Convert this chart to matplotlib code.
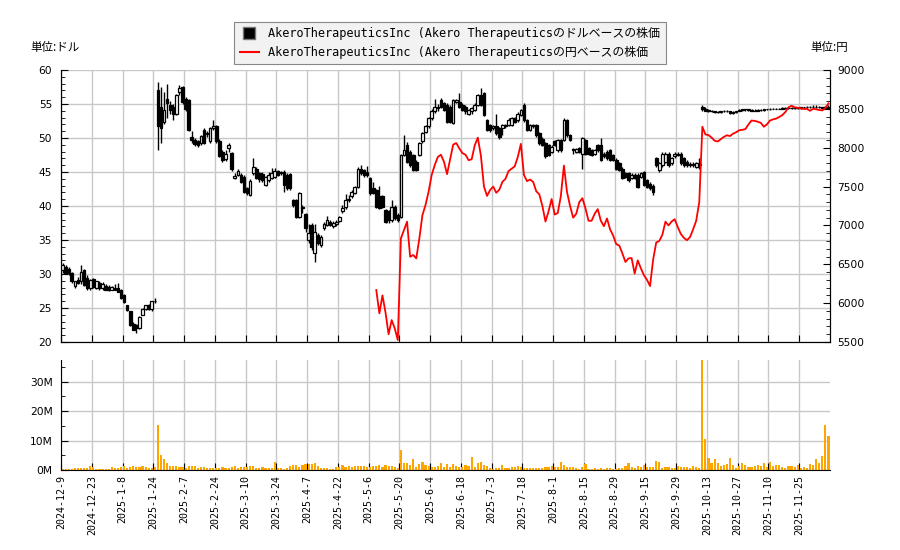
import numpy as np
import matplotlib
matplotlib.use("Agg")
import matplotlib.pyplot as plt
from matplotlib.ticker import MultipleLocator, FuncFormatter, FixedLocator
from matplotlib.lines import Line2D
from matplotlib.font_manager import FontProperties

# ---------------- data ----------------
date_labels = ["2024-12-9", "2024-12-23", "2025-1-8", "2025-1-24", "2025-2-7", "2025-2-24",
               "2025-3-10", "2025-3-24", "2025-4-7", "2025-4-22", "2025-5-6", "2025-5-20",
               "2025-6-4", "2025-6-18", "2025-7-3", "2025-7-18", "2025-8-1", "2025-8-15",
               "2025-8-29", "2025-9-15", "2025-9-29", "2025-10-13", "2025-10-27",
               "2025-11-10", "2025-11-25"]
label_every = 10  # trading days between labelled ticks

opens = [
    30.6, 31.1, 30.8, 30.1, 28.3, 29.1, 28.9, 30.6, 29.4, 27.9,
    29.2, 28.0, 28.7, 27.9, 28.2, 28.1, 27.7, 28.0, 27.9, 27.6,
    26.9, 25.4, 24.5, 22.7, 22.5, 22.0, 24.0, 24.8, 25.4, 24.8,
    26.0, 57.1, 54.5, 52.4, 55.7, 54.9, 54.6, 53.6, 56.8, 57.5,
    55.7, 55.6, 50.2, 49.7, 49.5, 49.2, 51.2, 50.8, 49.5, 51.4,
    51.7, 49.5, 48.0, 46.9, 48.5, 47.8, 44.1, 44.6, 44.6, 44.3,
    42.6, 41.6, 44.8, 45.5, 44.8, 44.7, 43.1, 43.8, 44.1, 44.3,
    45.1, 45.0, 45.0, 44.6, 44.7, 40.9, 40.9, 38.4, 39.9, 38.8,
    35.0, 37.2, 33.1, 35.7, 34.3, 36.7, 37.2, 37.7, 37.0, 37.3,
    37.8, 39.2, 39.9, 40.9, 41.4, 41.9, 42.8, 45.5, 45.3, 45.0,
    44.1, 42.6, 42.3, 41.4, 41.4, 39.4, 39.2, 37.9, 39.9, 38.7,
    38.4, 47.5, 49.0, 48.0, 47.5, 46.5, 47.5, 49.5, 50.9, 51.7,
    52.9, 53.9, 54.6, 55.6, 55.1, 54.9, 54.6, 52.2, 55.3, 55.3,
    54.9, 54.6, 53.6, 53.9, 54.1, 54.9, 56.3, 56.6, 52.6, 51.9,
    51.4, 51.7, 51.4, 51.4, 51.9, 51.9, 51.9, 52.9, 52.6, 53.4,
    54.9, 52.6, 51.2, 51.9, 51.9, 50.7, 49.9, 49.2, 48.9, 48.0,
    49.5, 48.2, 49.7, 49.7, 52.6, 50.4, 48.4, 48.0, 48.5, 47.7,
    49.7, 48.5, 48.2, 47.7, 48.9, 48.9, 47.7, 48.0, 48.2, 47.5,
    46.8, 46.3, 45.5, 44.8, 44.8, 44.1, 44.6, 44.6, 44.3, 45.0,
    43.8, 43.3, 42.9, 47.0, 45.3, 46.0, 46.5, 47.7, 46.3, 47.3,
    47.7, 47.7, 47.0, 46.5, 46.2, 46.2, 45.8, 46.1, 54.6, 54.3,
    54.1, 54.0, 53.9, 53.8, 53.8, 53.9, 54.0, 53.9, 53.7, 53.8,
    54.0, 54.1, 54.2, 54.2, 54.1, 54.0, 54.0, 54.1, 54.1, 54.2,
    54.2, 54.3, 54.3, 54.3, 54.3, 54.4, 54.4, 54.4, 54.4, 54.4,
    54.4, 54.5, 54.5, 54.6, 54.6, 54.6, 54.5, 54.5, 54.4, 54.5,
]
highs = [
    31.6, 31.3, 31.0, 30.3, 29.0, 29.5, 31.3, 30.7, 29.8, 29.2,
    29.4, 29.0, 28.9, 28.8, 28.6, 28.4, 28.3, 28.6, 28.7, 27.8,
    27.0, 25.5, 24.6, 23.0, 22.6, 23.8, 25.0, 25.5, 25.6, 26.1,
    26.4, 58.3, 57.5, 56.8, 57.9, 55.4, 55.0, 56.5, 57.8, 57.7,
    56.0, 55.8, 51.0, 50.0, 49.7, 50.5, 51.4, 51.0, 51.6, 52.7,
    51.9, 49.8, 48.3, 48.2, 49.3, 48.0, 44.9, 45.5, 44.9, 44.5,
    42.8, 43.9, 47.0, 45.7, 45.0, 45.0, 44.4, 45.0, 45.6, 45.6,
    45.3, 45.2, 45.3, 44.8, 44.9, 41.1, 41.1, 42.1, 40.1, 39.0,
    37.4, 37.5, 37.3, 36.0, 35.8, 37.7, 38.6, 37.9, 37.8, 37.9,
    38.6, 40.1, 41.7, 41.6, 42.3, 43.0, 45.7, 46.1, 45.5, 45.9,
    44.3, 43.5, 42.5, 42.9, 41.6, 39.6, 39.4, 40.9, 40.1, 38.9,
    47.7, 50.4, 49.4, 48.2, 47.7, 46.7, 49.4, 50.9, 51.9, 53.1,
    54.2, 55.8, 55.0, 55.9, 55.3, 55.1, 54.8, 55.8, 55.8, 56.6,
    55.1, 54.8, 54.3, 54.6, 55.1, 56.5, 57.3, 56.8, 52.8, 52.1,
    51.9, 53.5, 51.6, 52.1, 52.1, 52.9, 53.1, 53.1, 53.8, 54.3,
    55.1, 52.8, 52.1, 52.1, 52.1, 50.9, 50.1, 49.4, 49.1, 48.9,
    49.7, 49.9, 49.9, 52.9, 52.8, 50.6, 48.6, 48.6, 48.7, 50.2,
    49.9, 48.7, 48.4, 48.4, 49.1, 50.0, 47.9, 48.2, 48.4, 47.7,
    47.0, 46.5, 45.7, 45.0, 45.0, 44.8, 44.8, 44.8, 45.0, 45.2,
    44.0, 43.5, 43.3, 47.2, 46.5, 47.9, 48.0, 47.9, 47.2, 48.0,
    48.0, 48.0, 47.2, 46.7, 46.4, 46.4, 46.5, 47.0, 54.9, 54.5,
    54.3, 54.1, 54.0, 54.0, 54.0, 54.1, 54.1, 54.0, 53.9, 54.0,
    54.2, 54.3, 54.3, 54.3, 54.2, 54.2, 54.2, 54.2, 54.3, 54.3,
    54.4, 54.4, 54.4, 54.4, 54.5, 54.5, 54.5, 54.5, 54.5, 54.5,
    54.6, 54.6, 54.7, 54.7, 54.8, 54.8, 54.7, 54.6, 54.7, 54.9,
]
lows = [
    30.2, 30.0, 29.9, 28.7, 28.0, 28.6, 28.6, 28.2, 27.6, 27.7,
    28.0, 27.8, 27.7, 27.7, 27.6, 27.5, 27.6, 27.6, 27.3, 26.3,
    25.8, 24.6, 22.4, 21.7, 21.3, 21.9, 23.9, 24.7, 24.7, 24.6,
    25.7, 48.3, 49.3, 52.0, 53.0, 53.6, 52.6, 53.4, 56.3, 55.0,
    53.9, 51.0, 49.3, 48.8, 48.7, 48.9, 49.1, 50.2, 49.2, 51.2,
    49.3, 47.2, 46.5, 46.6, 48.0, 45.2, 43.9, 44.4, 43.4, 41.9,
    41.6, 41.5, 44.5, 43.9, 43.6, 43.6, 42.9, 43.6, 44.0, 44.1,
    44.4, 44.5, 42.0, 42.4, 42.4, 39.9, 38.2, 38.2, 39.0, 36.2,
    34.5, 33.5, 31.7, 34.2, 34.0, 36.5, 37.0, 37.0, 36.8, 37.1,
    37.6, 38.9, 39.6, 40.6, 41.2, 41.7, 42.6, 44.6, 44.3, 44.2,
    41.6, 41.7, 39.7, 39.5, 39.7, 37.5, 37.5, 37.6, 38.0, 37.7,
    38.2, 47.3, 46.3, 45.8, 45.1, 45.1, 47.3, 49.3, 50.7, 51.5,
    52.7, 53.7, 54.0, 54.4, 53.9, 52.2, 52.2, 52.0, 55.1, 54.4,
    53.9, 53.5, 53.4, 53.6, 53.9, 54.7, 54.7, 53.2, 51.0, 50.9,
    51.2, 50.5, 49.9, 50.4, 51.4, 51.7, 51.7, 52.2, 52.4, 53.2,
    52.4, 51.0, 51.0, 51.5, 50.2, 49.0, 48.8, 47.1, 47.3, 47.8,
    48.8, 48.0, 48.0, 49.5, 50.2, 49.5, 47.6, 47.8, 47.8, 45.5,
    47.5, 47.5, 47.3, 47.5, 48.0, 46.6, 47.1, 46.8, 46.6, 46.6,
    45.3, 45.1, 43.9, 44.1, 43.6, 43.9, 43.9, 42.6, 44.1, 42.9,
    42.6, 42.4, 41.6, 45.8, 45.0, 45.8, 46.3, 45.8, 46.1, 47.1,
    47.3, 46.1, 45.8, 45.8, 45.8, 45.8, 45.6, 45.5, 54.0, 53.9,
    53.8, 53.8, 53.7, 53.7, 53.7, 53.8, 53.8, 53.6, 53.6, 53.7,
    53.9, 54.0, 54.0, 54.0, 53.9, 53.9, 53.9, 54.0, 54.0, 54.1,
    54.1, 54.2, 54.2, 54.2, 54.2, 54.3, 54.3, 54.3, 54.3, 54.3,
    54.3, 54.4, 54.4, 54.4, 54.5, 54.4, 54.4, 54.3, 54.3, 54.3,
]
closes = [
    31.3, 30.1, 30.1, 28.9, 28.9, 28.7, 30.3, 28.4, 27.9, 29.1,
    28.1, 28.9, 27.9, 28.6, 27.7, 27.7, 28.1, 27.7, 27.4, 26.4,
    25.9, 24.7, 22.5, 21.8, 22.0, 23.7, 24.9, 25.4, 24.8, 26.0,
    26.1, 51.7, 51.5, 54.1, 55.2, 54.1, 53.6, 56.3, 57.4, 55.3,
    54.2, 51.2, 49.7, 49.1, 49.0, 50.3, 49.3, 50.6, 51.4, 51.8,
    49.5, 47.4, 46.8, 47.6, 49.0, 45.4, 44.4, 45.1, 43.6, 42.1,
    41.9, 43.7, 45.7, 44.1, 43.9, 43.8, 44.2, 44.6, 44.8, 45.1,
    44.6, 44.8, 43.1, 42.6, 42.6, 40.1, 38.4, 41.9, 39.7, 36.7,
    36.0, 34.0, 36.2, 34.5, 35.5, 37.4, 37.9, 37.2, 37.5, 37.7,
    38.4, 39.7, 40.9, 41.1, 42.1, 42.8, 45.5, 44.8, 44.6, 44.6,
    41.9, 41.9, 39.9, 39.7, 39.9, 37.7, 37.9, 39.9, 38.2, 37.9,
    47.5, 48.2, 46.5, 46.0, 45.3, 45.3, 49.2, 50.7, 51.7, 52.9,
    53.9, 54.6, 54.4, 54.6, 54.1, 52.4, 52.4, 55.6, 55.6, 54.6,
    54.1, 53.9, 54.1, 54.4, 54.9, 56.3, 54.9, 53.4, 51.2, 51.2,
    51.7, 50.7, 50.2, 51.9, 51.7, 52.6, 52.9, 52.4, 53.6, 54.1,
    52.6, 51.2, 51.9, 51.7, 50.4, 49.2, 49.0, 47.3, 47.5, 48.7,
    49.0, 49.7, 48.2, 52.6, 50.4, 49.7, 48.2, 48.4, 48.0, 50.0,
    47.7, 47.7, 47.5, 48.2, 48.2, 46.8, 47.3, 47.0, 46.8, 46.8,
    45.5, 45.3, 44.1, 44.3, 43.8, 44.6, 44.1, 42.8, 44.8, 43.1,
    42.8, 42.6, 42.1, 46.0, 46.3, 47.7, 47.7, 46.0, 47.0, 47.7,
    47.5, 46.3, 46.0, 46.0, 46.0, 46.0, 46.3, 46.2, 54.2, 54.0,
    53.9, 53.9, 53.8, 53.8, 53.9, 54.0, 54.0, 53.7, 53.8, 54.0,
    54.1, 54.2, 54.2, 54.1, 54.0, 54.0, 54.1, 54.1, 54.2, 54.2,
    54.3, 54.3, 54.3, 54.3, 54.4, 54.4, 54.4, 54.4, 54.4, 54.4,
    54.5, 54.5, 54.6, 54.6, 54.6, 54.5, 54.5, 54.4, 54.5, 54.4,
]
# yen-based price, not available for the first 102 trading days
jpy_close = [np.nan] * 102 + [
    6168, 5868, 6100, 5880, 5600, 5782, 5675, 5525, 6833, 6940,
    7048, 6597, 6619, 6576, 6833, 7133, 7262, 7434, 7648, 7777,
    7880, 7910, 7820, 7660, 7850, 8040, 8060, 7990, 7930, 7910,
    7840, 7850, 8030, 8130, 7900, 7500, 7380, 7455, 7500, 7420,
    7460, 7560, 7600, 7700, 7730, 7760, 7880, 8050, 7650, 7570,
    7590, 7560, 7440, 7400, 7250, 7050, 7180, 7340, 7140, 7160,
    7380, 7770, 7430, 7250, 7100, 7150, 7300, 7350, 7220, 7060,
    7060, 7150, 7210, 7060, 6990, 7090, 6950, 6870, 6760, 6740,
    6640, 6530, 6576, 6580, 6380, 6550, 6450, 6360, 6300, 6220,
    6560, 6780, 6800, 6880, 7048, 7000, 7050, 7080, 6980, 6890,
    6840, 6810, 6850, 6950, 7060, 7300, 8270, 8170, 8163, 8130,
    8090, 8080, 8110, 8140, 8160, 8150, 8180, 8200, 8225, 8230,
    8240, 8300, 8350, 8345, 8335, 8320, 8270, 8300, 8350, 8365,
    8375, 8395, 8420, 8460, 8520, 8540, 8520, 8515, 8506, 8498,
    8500, 8475, 8500, 8495, 8485, 8480, 8510, 8570,
]
volume_m = [
    0.3, 0.3, 0.3, 0.3, 0.8, 0.8, 0.8, 0.8, 0.8, 1.5,
    1.1, 0.3, 0.3, 0.3, 0.3, 0.3, 1.0, 0.8, 0.8, 1.1,
    1.3, 0.8, 1.1, 1.5, 0.9, 1.1, 1.5, 1.1, 0.8, 0.8,
    1.0, 15.2, 5.1, 3.7, 2.4, 1.5, 1.5, 1.5, 0.9, 1.1,
    0.8, 1.5, 1.5, 1.5, 0.8, 1.0, 1.0, 0.8, 0.8, 0.8,
    0.8, 0.8, 1.0, 0.8, 0.8, 1.0, 1.3, 0.8, 1.0, 1.0,
    1.1, 1.5, 1.5, 0.8, 0.8, 1.0, 0.8, 0.8, 0.8, 2.8,
    0.8, 0.8, 0.3, 0.8, 1.3, 1.7, 1.7, 1.0, 1.7, 2.2,
    2.0, 2.2, 2.5, 1.5, 0.8, 0.8, 0.8, 0.3, 0.4, 1.1,
    1.1, 1.7, 1.0, 1.3, 1.0, 1.5, 1.5, 1.5, 1.5, 1.0,
    1.0, 1.5, 1.5, 1.7, 1.0, 1.7, 1.5, 1.5, 0.9, 0.8,
    6.7, 2.4, 2.4, 1.7, 3.7, 1.1, 2.0, 2.7, 1.7, 1.3,
    1.1, 1.0, 1.5, 2.4, 1.0, 2.0, 1.1, 2.0, 1.3, 0.9,
    1.1, 1.7, 1.3, 4.4, 1.0, 2.4, 2.7, 1.7, 1.3, 0.7,
    0.3, 0.7, 0.7, 1.7, 0.7, 0.7, 1.0, 1.0, 1.3, 1.0,
    0.7, 0.7, 0.7, 0.7, 0.7, 0.7, 0.7, 1.0, 1.0, 1.3,
    1.0, 1.0, 2.7, 1.7, 1.0, 1.0, 1.0, 0.7, 0.3, 1.0,
    2.0, 0.3, 0.3, 0.7, 0.3, 0.7, 0.3, 0.7, 0.7, 0.3,
    0.3, 0.7, 0.7, 1.3, 2.4, 1.0, 0.7, 1.3, 1.0, 1.7,
    1.0, 1.0, 1.0, 3.0, 2.7, 0.7, 1.0, 1.0, 0.7, 0.7,
    1.3, 1.0, 1.0, 1.0, 0.7, 1.3, 1.0, 0.7, 37.3, 10.4,
    4.0, 2.4, 3.7, 2.4, 1.3, 1.7, 2.0, 4.0, 1.7, 0.7,
    1.3, 2.4, 1.7, 1.0, 1.0, 1.3, 1.7, 1.3, 2.4, 1.0,
    2.7, 1.3, 1.7, 1.7, 1.0, 0.7, 1.3, 1.3, 1.0, 1.7,
    0.7, 1.0, 0.7, 2.0, 1.7, 3.7, 2.4, 4.7, 15.2, 11.5,
]

legend_usd = "AkeroTherapeuticsInc (Akero Therapeuticsのドルベースの株価"
legend_jpy = "AkeroTherapeuticsInc (Akero Therapeuticsの円ベースの株価"
unit_left = "単位:ドル"
unit_right = "単位:円"

# ---------------- figure ----------------
o = np.array(opens); h = np.array(highs); l = np.array(lows); c = np.array(closes)
jpy = np.array(jpy_close, dtype=float)
vol = np.array(volume_m)
n = len(c)
x = np.arange(n) + 0.5

W, H = 900, 550
fig = plt.figure(figsize=(W / 100, H / 100), dpi=100)
ax = fig.add_axes([61 / W, 1 - 342 / H, 769 / W, 272 / H])
axv = fig.add_axes([61 / W, 1 - 470 / H, 769 / W, 110 / H])

grid_col = "#c8c8c8"
mono = ["DejaVu Sans Mono", "Noto Sans CJK JP"]
cjk = ["Noto Sans CJK JP", "DejaVu Sans"]

tick_pos = np.arange(len(date_labels)) * label_every

# candles
up = c >= o
ax.vlines(x, l, h, color="black", lw=1.0, zorder=2)
ax.bar(x, np.abs(c - o), bottom=np.minimum(o, c), width=0.85,
       color=np.where(up, "white", "black"), edgecolor="black", linewidth=0.9, zorder=3)
ax.set_xlim(0, n)
ax.set_ylim(20, 60)
ax.yaxis.set_major_locator(MultipleLocator(5))
ax.yaxis.set_minor_locator(MultipleLocator(1))
ax.xaxis.set_major_locator(FixedLocator(tick_pos))
ax.set_xticklabels([])
ax.grid(True, color=grid_col, lw=1)
ax.set_axisbelow(True)
ax.spines["top"].set_visible(False)
ax.tick_params(axis="both", which="both", direction="in", colors="black")
ax.tick_params(axis="both", which="major", length=5)
ax.tick_params(axis="y", which="minor", length=3)
ax.tick_params(axis="y", labelsize=7.7, pad=6.5)

ax2 = ax.twinx()
ax2.plot(x, jpy, color="red", lw=1.3, zorder=4)
ax2.set_ylim(5500, 9000)
ax2.yaxis.set_major_locator(MultipleLocator(500))
ax2.yaxis.set_minor_locator(MultipleLocator(100))
ax2.spines["top"].set_visible(False)
ax2.tick_params(axis="y", which="both", direction="in")
ax2.tick_params(axis="y", which="major", length=5, labelsize=7.7, pad=5)
ax2.tick_params(axis="y", which="minor", length=3)

# volume
axv.bar(x, vol, width=0.7, color="#FFA500", zorder=2)
axv.set_xlim(0, n)
axv.set_ylim(0, vol.max())
axv.yaxis.set_major_locator(MultipleLocator(10))
axv.yaxis.set_minor_locator(MultipleLocator(5))
axv.yaxis.set_major_formatter(FuncFormatter(lambda v, p: f"{v:.0f}M"))
axv.xaxis.set_major_locator(FixedLocator(tick_pos))
axv.set_xticklabels(date_labels, rotation=90, family=mono, fontsize=7.2)
axv.grid(True, color=grid_col, lw=1)
axv.set_axisbelow(True)
for s in ("top", "right"):
    axv.spines[s].set_visible(False)
axv.tick_params(axis="both", which="both", direction="in")
axv.tick_params(axis="both", which="major", length=5)
axv.tick_params(axis="y", which="minor", length=3)
axv.tick_params(axis="y", labelsize=7.7, pad=6)
axv.tick_params(axis="x", pad=3.5)

# legend
handles = [Line2D([], [], marker="s", markersize=8, markerfacecolor="black",
                  markeredgecolor="#777777", linestyle="none"),
           Line2D([], [], color="red", lw=1.5)]
leg = fig.legend(handles, [legend_usd, legend_jpy], loc="upper center",
                 bbox_to_anchor=(0.5, 1 - 22 / H), borderaxespad=0, frameon=True,
                 fancybox=False, edgecolor="#888888", facecolor="#f2f2f2", framealpha=1,
                 prop=FontProperties(family=mono, size=8.6), handlelength=1.6,
                 borderpad=0.45, labelspacing=0.45, handletextpad=0.8)
leg.get_frame().set_linewidth(0.8)

fig.text(30 / W, 1 - 47 / H, unit_left, family=cjk, fontsize=8.3, va="center", ha="left")
fig.text(810 / W, 1 - 47 / H, unit_right, family=cjk, fontsize=8.3, va="center", ha="left")

fig.savefig("out.png", dpi=100)
